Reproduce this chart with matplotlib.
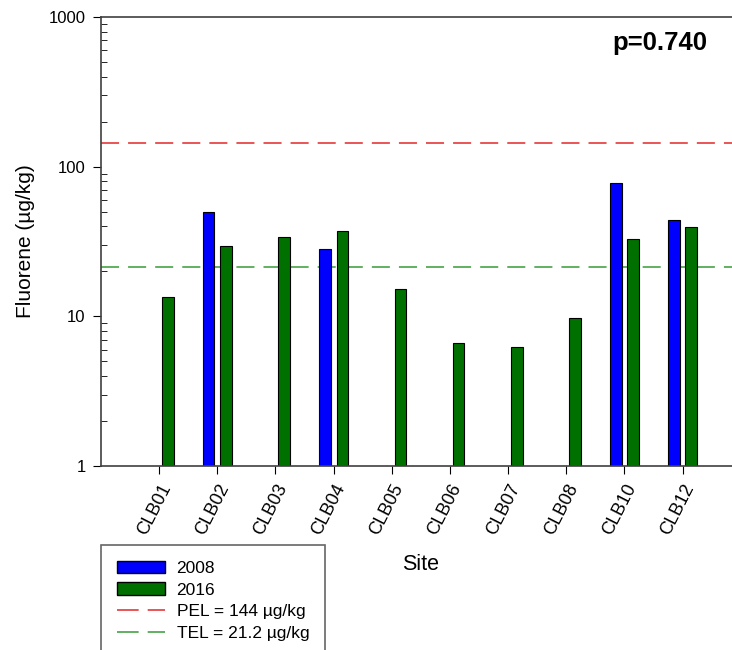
import matplotlib
matplotlib.use("Agg")
import matplotlib.pyplot as plt
import numpy as np
from matplotlib.patches import Patch
from matplotlib.lines import Line2D
from matplotlib.ticker import LogLocator, FixedLocator, NullFormatter

plt.rcParams["font.family"] = ["Liberation Sans", "DejaVu Sans"]

# data
sites = ["CLB01", "CLB02", "CLB03", "CLB04", "CLB05",
         "CLB06", "CLB07", "CLB08", "CLB10", "CLB12"]
y2008 = [np.nan, 49.6, np.nan, 28.0, np.nan, np.nan, np.nan, np.nan, 78.2, 43.8]
y2016 = [13.4, 29.7, 33.8, 37.0, 15.3, 6.6, 6.2, 9.7, 33.1, 39.4]
pel = 144
tel = 21.2
pval = "p=0.740"

fig = plt.figure(figsize=(7.32, 6.5), dpi=100)
ax = fig.add_axes([101/732, 1-466/650, 1-101/732, (466-17)/650])

x = np.arange(len(sites))
w = 0.2
ax.bar(x - 0.15, y2008, w, color="#0000ff", edgecolor="black", linewidth=0.8, zorder=2)
ax.bar(x + 0.15, y2016, w, color="#007000", edgecolor="black", linewidth=0.8, zorder=2)

ax.axhline(pel, color="#e84848", ls=(0, (10, 5)), lw=1.3, zorder=1)
ax.axhline(tel, color="#55aa55", ls=(0, (10, 5)), lw=1.3, zorder=1)

ax.set_yscale("log")
ax.set_ylim(1, 1000)
ax.set_xlim(-1.0, 9.85)
ax.yaxis.set_major_locator(FixedLocator([1, 10, 100, 1000]))
ax.set_yticklabels(["1", "10", "100", "1000"])
ax.yaxis.set_minor_locator(LogLocator(base=10, subs=np.arange(2, 10)))
ax.yaxis.set_minor_formatter(NullFormatter())
ax.tick_params(axis="y", which="major", direction="out", length=6, pad=5, labelsize=12)
ax.tick_params(axis="y", which="minor", direction="in", length=4)
ax.set_xticks(x)
ax.set_xticklabels(sites, rotation=63, ha="right", rotation_mode="anchor", fontsize=13)
ax.tick_params(axis="x", direction="out", length=6, pad=5)
ax.spines["right"].set_visible(False)
for s in ["left", "bottom", "top"]:
    ax.spines[s].set_color("#404040")
    ax.spines[s].set_linewidth(1.2)

ax.set_ylabel("Fluorene (µg/kg)", fontsize=15, labelpad=10)
fig.text(421/732, 1-565/650, "Site", fontsize=15.5, ha="center", va="center")
fig.text(660/732, 1-43/650, pval, fontsize=18.5, fontweight="bold", ha="center", va="center")

handles = [Patch(facecolor="#0000ff", edgecolor="black"),
           Patch(facecolor="#007000", edgecolor="black"),
           Line2D([], [], color="#e84848", ls=(0, (12, 5)), lw=1.3),
           Line2D([], [], color="#55aa55", ls=(0, (12, 5)), lw=1.3)]
labels = ["2008", "2016", "PEL = 144 µg/kg", "TEL = 21.2 µg/kg"]
leg = fig.legend(handles, labels, loc="upper left", bbox_to_anchor=(101/732, 1-545/650),
                 fontsize=12.5, frameon=True, fancybox=False, handlelength=2.8,
                 handleheight=0.75, handletextpad=0.65, labelspacing=0.36,
                 borderpad=0.9, borderaxespad=0)
leg.get_frame().set_edgecolor("#404040")
leg.get_frame().set_linewidth(1.2)

fig.savefig("out.png", dpi=100)
